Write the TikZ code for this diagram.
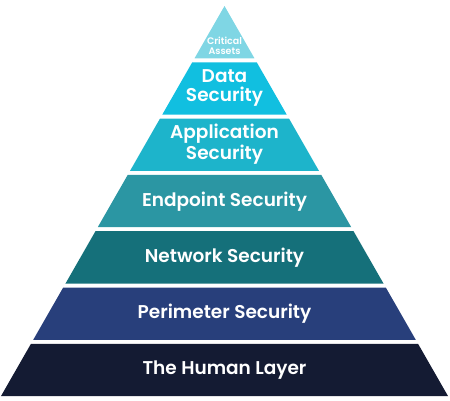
\documentclass[tikz,border=0pt]{standalone}
\usepackage{fontspec}
\setmainfont{Poppins}[BoldFont={Poppins SemiBold}]
\definecolor{c0}{HTML}{7FD6E4}
\definecolor{c1}{HTML}{11BFE0}
\definecolor{c2}{HTML}{1DB4CB}
\definecolor{c3}{HTML}{2B96A3}
\definecolor{c4}{HTML}{15707A}
\definecolor{c5}{HTML}{283F7B}
\definecolor{c6}{HTML}{141B33}
\begin{document}
\begin{tikzpicture}[x=1pt,y=-1pt,
  lbl/.style={text=white,font=\bfseries\fontsize{18.5}{18.5}\selectfont,align=center,inner sep=0pt},
  small/.style={text=white,font=\bfseries\fontsize{9.5}{9.5}\selectfont,align=center,inner sep=0pt}]
\useasboundingbox (0,0) rectangle (450,400);
\foreach \i/\col in {0/c0,1/c1,2/c2,3/c3,4/c4,5/c5,6/c6}{
  \pgfmathsetmacro\yt{6+56.3*\i}
  \pgfmathsetmacro\yb{\yt+52.3}
  \pgfmathsetmacro\wt{0.573*(\yt-6)}
  \pgfmathsetmacro\wb{0.573*(\yb-6)}
  \fill[\col] (224.5-\wt,\yt) -- (224.5+\wt,\yt) -- (224.5+\wb,\yb) -- (224.5-\wb,\yb) -- cycle;
}
\node[small] (crit) at (224.5,46) {Critical\\Assets};
\node[lbl] (data) at (224.5,88) {Data\\Security};
\node[lbl] (app) at (224.5,144) {Application\\Security};
\node[lbl] (end) at (224.5,201.5) {Endpoint Security};
\node[lbl] (net) at (224.5,258) {Network Security};
\node[lbl] (per) at (224.5,313.5) {Perimeter Security};
\node[lbl] (hum) at (224.5,370) {The Human Layer};
\end{tikzpicture}
\end{document}
